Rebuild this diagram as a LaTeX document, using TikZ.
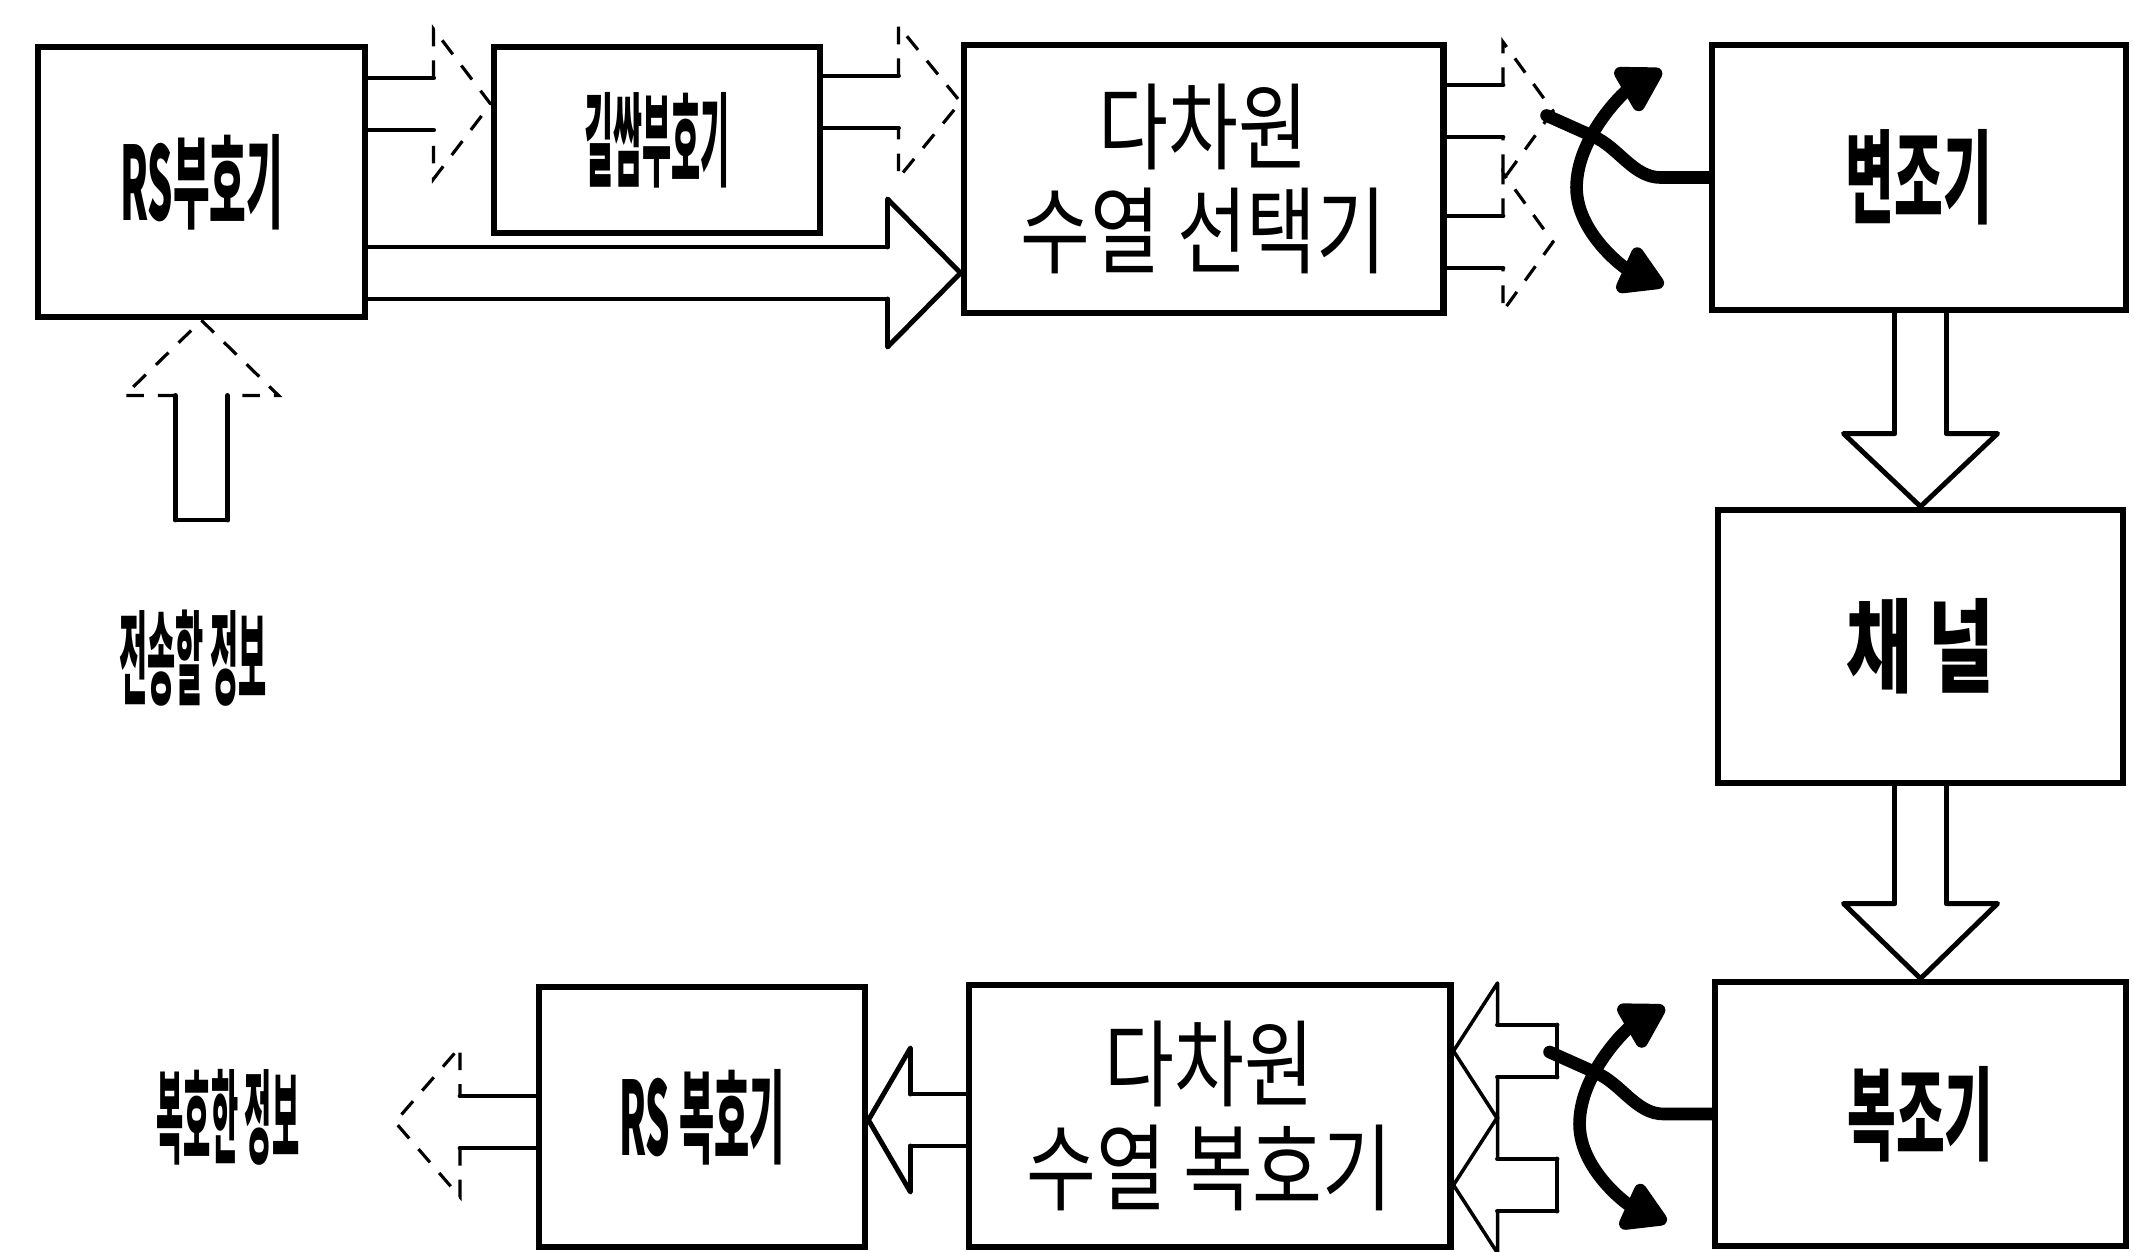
\documentclass[tikz,border=0pt]{standalone}
\usepackage{fontspec}
\usepackage{graphicx}
\usetikzlibrary{calc,arrows.meta}
\newfontfamily\kr{Noto Sans CJK KR}
\newcommand{\narrow}[2]{\scalebox{#1}[1]{#2}}
% fat arrow: [head style]{tail}{tip}{head length}{head half width}{tail style}
\newcommand{\fatarrow}[6][fatline]{%
  \path (#2) coordinate (ft) (#3) coordinate (fh);
  \path ($(fh)!#4!(ft)$) coordinate (fb);
  \draw[fatline] ($(ft)!0.26cm!90:(fh)$) -- ($(fb)!0.26cm!90:(fh)$)
                 ($(fb)!0.26cm!-90:(fh)$) -- ($(ft)!0.26cm!-90:(fh)$);
  \draw[#1] ($(fb)!0.26cm!90:(fh)$) -- ($(fb)!#5!90:(fh)$) -- (fh)
            -- ($(fb)!#5!-90:(fh)$) -- ($(fb)!0.26cm!-90:(fh)$);
  \draw[#6] ($(ft)!0.26cm!90:(fh)$) -- ($(ft)!0.26cm!-90:(fh)$);
}
\tikzset{
  blk/.style={draw, line width=1.9pt, inner sep=0pt},
  lbl/.style={font=\kr\bfseries\fontsize{29pt}{30pt}\selectfont},
  twoline/.style={font=\kr\fontsize{27pt}{29.6pt}\selectfont, align=center},
  fatline/.style={line width=1.4pt, line cap=round, line join=round},
  faint/.style={line width=0.9pt, dash pattern=on 5pt off 4pt},
  thinhead/.style={line width=1pt, line join=round},
  swline/.style={line width=3.6pt, line cap=round},
  selsw/.pic={
    \draw[swline] (0,0) -- (-48,0) .. controls (-75,0) and (-90,-30) .. (-115,-41) -- (-162,-62);
    \draw[swline, {Triangle[length=5mm,width=5.5mm,round]}-{Triangle[length=5mm,width=5.5mm,round]}]
      (-47,-107) .. controls (-85,-85) and (-132,-40) .. (-132,10)
      .. controls (-132,55) and (-85,90) .. (-45,108);
  }
}
\begin{document}
\begin{tikzpicture}[x=0.01cm, y=-0.01cm]
  \useasboundingbox (0,0) rectangle (2134,1252);
  % sender
  \node[blk, lbl, minimum width=3.27cm, minimum height=2.70cm] (rsenc) at (201.5,182) {\narrow{0.39}{RS부호기}};
  \node[blk, lbl, minimum width=3.26cm, minimum height=1.86cm] (conv) at (657,140) {\narrow{0.31}{길쌈부호기}};
  \node[blk, twoline, minimum width=4.79cm, minimum height=2.68cm] (mseq) at (1203.5,179) {\narrow{0.8}{다차원}\\\narrow{0.8}{수열 선택기}};
  \node[blk, lbl, minimum width=4.14cm, minimum height=2.65cm] (mod) at (1919,177.5) {\narrow{0.52}{변조기}};
  \node[blk, lbl, minimum width=4.05cm, minimum height=2.73cm] (chan) at (1920.5,646.5) {\narrow{0.7}{채 널}};
  % receiver
  \node[blk, lbl, minimum width=4.11cm, minimum height=2.64cm] (demod) at (1920.5,1114) {\narrow{0.52}{복조기}};
  \node[blk, twoline, minimum width=4.81cm, minimum height=2.62cm] (mdec) at (1209.5,1116) {\narrow{0.8}{다차원}\\\narrow{0.8}{수열 복호기}};
  \node[blk, lbl, minimum width=3.26cm, minimum height=2.60cm] (rsdec) at (702,1117) {\narrow{0.375}{RS 복호기}};
  \node[lbl] (src) at (193,658) {\narrow{0.3}{전송할 정보}};
  \node[lbl] (sink) at (228,1117) {\narrow{0.29}{복호한 정보}};

  \coordinate (intail) at (201.5,520);
  \coordinate (outtip) at (395,1122);
  \coordinate (outA) at (1553,111);
  \coordinate (outB) at (1553,242);
  \coordinate (inA) at (1557,1051);
  \coordinate (inB) at (1557,1185);

  \fatarrow[faint]{intail}{rsenc.south}{0.75cm}{0.77cm}{fatline}
  \fatarrow[faint]{rsenc.east |- 0,104}{conv.west |- 0,104}{0.57cm}{0.75cm}{draw=none}
  \fatarrow[faint]{conv.east |- 0,102}{mseq.west |- 0,102}{0.62cm}{0.76cm}{draw=none}
  \fatarrow{rsenc.east |- 0,273}{mseq.west |- 0,273}{0.73cm}{0.74cm}{draw=none}
  \fatarrow[faint]{mseq.east |- outA}{outA}{0.5cm}{0.69cm}{draw=none}
  \fatarrow[faint]{mseq.east |- outB}{outB}{0.5cm}{0.69cm}{draw=none}
  \fatarrow{chan.north |- mod.south}{chan.north}{0.73cm}{0.77cm}{draw=none}
  \fatarrow{chan.south}{demod.north}{0.75cm}{0.77cm}{draw=none}
  \fatarrow[thinhead]{inA}{mdec.east |- inA}{0.44cm}{0.68cm}{fatline}
  \fatarrow[thinhead]{inB}{mdec.east |- inB}{0.44cm}{0.68cm}{fatline}
  \fatarrow{mdec.west |- 0,1120}{rsdec.east |- 0,1120}{0.42cm}{0.72cm}{draw=none}
  \fatarrow[faint]{rsdec.west |- outtip}{outtip}{0.65cm}{0.75cm}{draw=none}

  % switches
  \pic at (mod.west) {selsw};
  \pic at (demod.west) {selsw};
\end{tikzpicture}
\end{document}
